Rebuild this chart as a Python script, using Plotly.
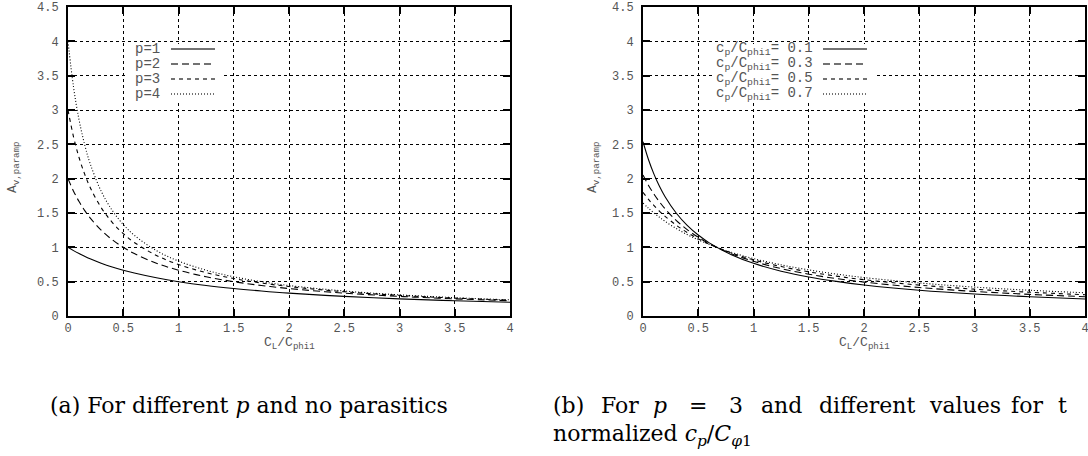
import plotly.graph_objects as go

W, H = 1088, 456

# ---------------- data ----------------
x_vals = [0, 0.05, 0.1, 0.15, 0.2, 0.3, 0.4, 0.5, 0.6, 0.8, 1.0, 1.25, 1.5, 1.75,
          2.0, 2.5, 3.0, 3.5, 4.0]

# panel (a): different p, no parasitics
a_labels = ["p=1", "p=2", "p=3", "p=4"]
a_p1 = [1.0, 0.952, 0.909, 0.870, 0.833, 0.769, 0.714, 0.667, 0.625, 0.556, 0.5,
        0.444, 0.4, 0.364, 0.333, 0.286, 0.25, 0.222, 0.2]
a_p2 = [2.0, 1.818, 1.667, 1.538, 1.429, 1.25, 1.111, 1.0, 0.909, 0.769, 0.667,
        0.571, 0.5, 0.444, 0.4, 0.333, 0.286, 0.25, 0.222]
a_p3 = [3.0, 2.609, 2.308, 2.069, 1.875, 1.579, 1.364, 1.2, 1.071, 0.882, 0.75,
        0.632, 0.545, 0.48, 0.429, 0.353, 0.3, 0.261, 0.231]
a_p4 = [4.0, 3.333, 2.857, 2.5, 2.222, 1.818, 1.538, 1.333, 1.176, 0.952, 0.8,
        0.667, 0.571, 0.5, 0.444, 0.364, 0.308, 0.267, 0.235]

# panel (b): p = 3, different cp/Cphi1
b_labels = ["c<sub>p</sub>/C<sub>phi1</sub>= 0.1", "c<sub>p</sub>/C<sub>phi1</sub>= 0.3",
            "c<sub>p</sub>/C<sub>phi1</sub>= 0.5", "c<sub>p</sub>/C<sub>phi1</sub>= 0.7"]
b_c01 = [2.538, 2.276, 2.063, 1.886, 1.737, 1.5, 1.32, 1.179, 1.065, 0.892, 0.767,
         0.653, 0.569, 0.504, 0.452, 0.375, 0.320, 0.280, 0.248]
b_c03 = [2.053, 1.902, 1.773, 1.660, 1.56, 1.393, 1.258, 1.147, 1.054, 0.907, 0.796,
         0.690, 0.609, 0.545, 0.494, 0.415, 0.358, 0.315, 0.281]
b_c05 = [1.8, 1.698, 1.607, 1.525, 1.452, 1.324, 1.216, 1.125, 1.047, 0.918, 0.818,
         0.72, 0.643, 0.581, 0.529, 0.45, 0.391, 0.346, 0.310]
b_c07 = [1.645, 1.569, 1.5, 1.437, 1.378, 1.275, 1.186, 1.109, 1.041, 0.927, 0.836,
         0.745, 0.671, 0.611, 0.560, 0.481, 0.421, 0.375, 0.338]

x_ticks = [0, 0.5, 1, 1.5, 2, 2.5, 3, 3.5, 4]
x_tick_text = ["0", "0.5", "1", "1.5", "2", "2.5", "3", "3.5", "4"]
y_ticks = [0, 0.5, 1, 1.5, 2, 2.5, 3, 3.5, 4, 4.5]
y_tick_text = ["0", "0.5", "1", "1.5", "2", "2.5", "3", "3.5", "4", "4.5"]

y_title = "A<sub>v,paramp</sub>"
x_title = "C<sub>L</sub>/C<sub>phi1</sub>"

# ---------------- styles ----------------
dashes = ["solid", "7px,4px", "4px,4px", "1px,2px"]
MONO = "Liberation Mono"
TXT = "#555555"
SERIF = "DejaVu Serif"


def px(x):
    return x / W


def py(y):
    return 1 - y / H


fig = go.Figure()

for ys, lab, d in zip([a_p1, a_p2, a_p3, a_p4], a_labels, dashes):
    fig.add_trace(go.Scatter(x=x_vals, y=ys, mode="lines", name=lab, xaxis="x", yaxis="y",
                             line=dict(color="black", width=1.1, dash=d, shape="spline"),
                             showlegend=False))
for ys, lab, d in zip([b_c01, b_c03, b_c05, b_c07], b_labels, dashes):
    fig.add_trace(go.Scatter(x=x_vals, y=ys, mode="lines", name=lab, xaxis="x2", yaxis="y2",
                             line=dict(color="black", width=1.1, dash=d, shape="spline"),
                             showlegend=False))

axis_common = dict(
    showline=True, linewidth=2, linecolor="black", mirror="ticks",
    ticks="inside", ticklen=7, tickwidth=1.5, tickcolor="black",
    showgrid=True, gridcolor="black", gridwidth=1, griddash="dot",
    zeroline=False, automargin=False, ticklabeloverflow="allow",
    tickfont=dict(family=MONO, size=12, color=TXT),
)

y_dom = [py(316), py(7)]
fig.update_layout(
    width=W, height=H,
    margin=dict(l=0, r=0, t=0, b=0),
    paper_bgcolor="white", plot_bgcolor="white",
    showlegend=False,
    xaxis=dict(domain=[px(68), px(510)], range=[0, 4], anchor="y", ticklabelstandoff=0,
               tickvals=x_ticks, ticktext=x_tick_text, **axis_common),
    yaxis=dict(domain=y_dom, range=[0, 4.5], anchor="x", ticklabelstandoff=5,
               tickvals=y_ticks, ticktext=y_tick_text, **axis_common),
    xaxis2=dict(domain=[px(643), px(1085)], range=[0, 4], anchor="y2", ticklabelstandoff=0,
                tickvals=x_ticks, ticktext=x_tick_text, **axis_common),
    yaxis2=dict(domain=y_dom, range=[0, 4.5], anchor="x2", ticklabelstandoff=5,
                tickvals=y_ticks, ticktext=y_tick_text, **axis_common),
)

shapes = []
annotations = []

# axis titles
for cx in (289, 864):
    annotations.append(dict(x=px(cx), y=py(343), xref="paper", yref="paper", text=x_title,
                            showarrow=False, xanchor="center", yanchor="middle",
                            font=dict(family=MONO, size=13, color=TXT)))
for cx in (13, 593):
    annotations.append(dict(x=px(cx), y=py(168), xref="paper", yref="paper", text=y_title,
                            showarrow=False, textangle=-90, xanchor="center", yanchor="middle",
                            font=dict(family=MONO, size=13, color=TXT)))

# legend boxes (gnuplot style: text, then sample)
legend_specs = [
    (a_labels, 126, 222, 162, 171, 215),
    (b_labels, 712, 877, 815, 823, 867),
]
rows = [49, 64, 79, 94]
for labels, bx0, bx1, tx, lx0, lx1 in legend_specs:
    shapes.append(dict(type="rect", xref="paper", yref="paper", x0=px(bx0), x1=px(bx1),
                       y0=py(103), y1=py(44), fillcolor="white", line=dict(width=0),
                       layer="above"))
    for lab, d, r in zip(labels, dashes, rows):
        annotations.append(dict(x=px(tx), y=py(r), xref="paper", yref="paper", text=lab,
                                showarrow=False, xanchor="right", yanchor="middle",
                                font=dict(family=MONO, size=14, color=TXT)))
        shapes.append(dict(type="line", xref="paper", yref="paper", x0=px(lx0), x1=px(lx1),
                           y0=py(r), y1=py(r), line=dict(color="#444444", width=1.5, dash=d),
                           layer="above"))

# captions
cap_font = dict(family=SERIF, size=22, color="black")
annotations.append(dict(x=px(48), y=py(405), xref="paper", yref="paper",
                        text="(a) For different <i>p</i> and no parasitics",
                        showarrow=False, xanchor="left", yanchor="middle", font=cap_font))
words_b = [("(b)", 551), ("For", 599), ("<i>p</i>", 651), ("=", 687), ("3", 727),
           ("and", 759), ("different", 817), ("values", 927), ("for", 1009), ("t", 1056)]
for w, wx in words_b:
    annotations.append(dict(x=px(wx), y=py(405), xref="paper", yref="paper", text=w,
                            showarrow=False, xanchor="left", yanchor="middle", font=cap_font))
annotations.append(dict(x=px(551), y=py(435), xref="paper", yref="paper",
                        text="normalized <i>c</i><sub><i>p</i></sub>/<i>C</i><sub><i>φ</i>1</sub>",
                        showarrow=False, xanchor="left", yanchor="middle", font=cap_font))

fig.update_layout(shapes=shapes, annotations=annotations)

# remove the browser's default page margin so the figure sits at the window's corner
fig.write_html("out.html",
               config={"displayModeBar": False},
               post_script="document.body.style.margin='0';document.body.style.overflow='hidden';")
